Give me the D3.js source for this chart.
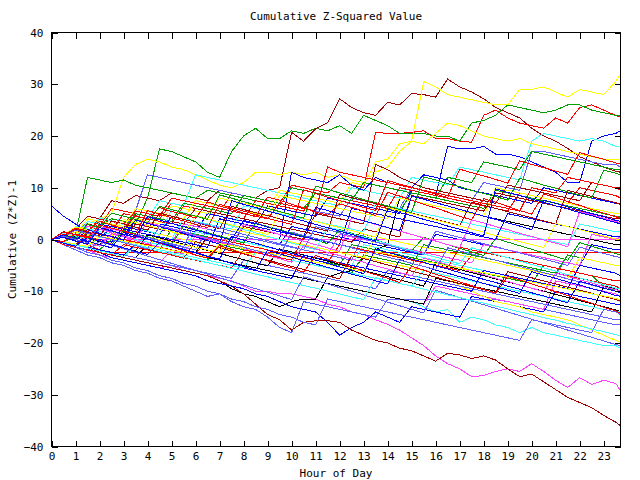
<!DOCTYPE html>
<html>
<head>
<meta charset="utf-8">
<script src="https://cdn.jsdelivr.net/npm/d3@7"></script>
<style>
  html, body { margin: 0; padding: 0; background: #fff; }
  svg { display: block; }
  text { font-family: "DejaVu Sans Mono", monospace; font-size: 11px; fill: #000; }
</style>
</head>
<body>
<svg id="chart" width="640" height="480"></svg>
<script>
// ---------------- data ----------------
const chartTitle = "Cumulative Z-Squared Value";
const xTitle = "Hour of Day";
const yTitle = "Cumulative (Z*Z)-1";
const xTicks = [0,1,2,3,4,5,6,7,8,9,10,11,12,13,14,15,16,17,18,19,20,21,22,23];
const yTicks = [-40,-30,-20,-10,0,10,20,30,40];

const hours = [0,0.5,1,1.5,2,2.5,3,3.5,4,4.5,5,5.5,6,6.5,7,7.5,8,8.5,9,9.5,10,10.5,11,11.5,
  12,12.5,13,13.5,14,14.5,15,15.5,16,16.5,17,17.5,18,18.5,19,19.5,20,20.5,21,21.5,22,22.5,23,23.5,23.75];

const redSeries = [
  [0,1.5,1,3,2.5,6,5.5,5, 4.5,4,7,6.5,6,5.5,5,9, 8.5,8,7.5,7,10.5,10,9.5,9, 11,10.5,10,20.7,20.5,20.5,20.7,21, 19.5,19.5,19,18.8,24,25,23.5,22.5, 22,21.5,23.5,22.5,25.5,26,25,24, 23.6],
  [0,0.5,0,-1,-2,-2.6,-2.6,-2.6, -2.6,-2.6,-2.6,-2.6,-2.6,-2.6,-2.6,-2.6, -2.6,-2.6,-2.6,-2.6,-2.6,-2.6,-2.6,-2.6, -2.6,-2.6,-2.6,-2.6,-2.6,-2.6,-2.6,-2.6, -2.6,-2.6,-2.6,-2.6,-2.6,-2.6,-2.6,-2.6, -2.6,-2.6,-2.6,-2.6,-2.6,-2.6,-2.6,-2.6, -2.6],
  [0,1,0.5,2.5,2,1.5,5,4.5, 4,3.5,3,6.5,6,5.5,5,4.5, 4,7.5,7,6.5,6,5.5,9,8.5, 8,7.5,7,6.5,6,10,9.5,9, 8.5,8,7.5,7,6.5,6,5.5,9, 8.5,8,7.5,7,10,9.5,9,8.5, 8],
  [0,-0.5,-1,1.5,1,0.5,0,-0.5, -1,-1.5,-2,-2.5,-3,0.5,0,-0.5, -1,-1.5,-2,-2.5,-3,-3.5,-4,-4.5, -1,-1.5,-2,-2.5,-3,-3.5,-4,-4.5, -5,-5.5,-6,-3,-3.5,-4,-4.5,-5, -5.5,-6,-6.5,-7,-7.5,-8,-8.5,-9, -9.5],
  [0,1,2,1.5,4,3.5,3,5.5, 5,4.5,8,7.5,7,6.5,6,5.5, 5,4.5,4,7,6.5,6,5.5,14, 13,12.5,12,11.5,11,10.5,10,9.5, 9,8.5,8,7.5,7,6.5,6,5.5, 10,9.5,9,12,11.5,11,10.5,10, 9.5],
  [0,-1,-1.5,-2,-2.5,-3,-1,-1.5, -2,-2.5,-3,-3.5,-4,-4.5,-5,-5.5, -2,-2.5,-3,-3.5,-4,0.5,0,-0.5, -1,-1.5,-2,-2.5,-3,-3.5,-4,-4.5, -5,-5.5,-1.5,-2,-2.5,-3,-3.5,-4, -4.5,-5,-5.5,-6,-6.5,-7,-7.5,-8, -8],
  [0,0.8,2.2,1.6,3.5,2.8,2.1,4.6, 3.9,6.2,5.4,4.9,4.1,7.3,6.5,5.8, 5.1,4.4,8.2,7.6,6.8,6.1,5.3,4.7, 6.9,6.2,5.5,4.6,9.1,8.4,7.6,6.8, 6.1,5.3,4.5,3.8,7.9,7.2,6.4,5.6, 4.9,8.8,8.1,7.3,6.6,5.8,5.1,4.4, 4.1],
  [0,-0.4,1.1,0.5,-0.2,-0.9,-1.6,0.8, 0.1,-0.7,-1.4,-2.2,-3,-3.6,-1.2,-1.9, -2.7,-3.4,-4.1,-4.9,-5.5,-6.3,-3.1,-3.8, -4.6,-5.3,-6.1,-6.8,-7.5,-8.3,-5.2,-5.9, -6.7,-7.4,-8.2,-8.9,-9.6,-10.4,-7.1,-7.8, -8.6,-9.3,-10.1,-10.8,-11.6,-12.3,-13.1,-13.8, -14.2],
  [0,1.4,0.9,0.3,2.8,2.2,1.6,1, 5.6,4.9,4.2,3.6,2.9,2.3,6.8,6.1, 5.5,4.8,4.1,3.5,2.9,9.6,8.9,8.2, 7.5,6.9,6.2,5.6,11.4,10.7,10.1,9.4, 8.8,8.1,13.6,12.9,12.3,11.6,10.9,15.2, 14.5,13.9,13.2,12.6,16.8,16.1,15.5,14.8, 14.6]
];

const greenSeries = [
  [0,0.5,1,3,2.5,4,3.5,3, 8,17.5,17,16,15,13,12,17, 20,21.5,19.5,19.5,21,20.5,21.5,21, 22,20.5,24,23,22,20.5,20.5,20.5, 20,20,19,22.5,23,24,26,25.5, 25,24.5,25,26,26,25,24.5,24, 24],
  [0,0.5,1,12,11.5,11,11.5,10.5, 10,9.5,9,8.5,8,9.5,9,8.5, 8,7.5,7,6.5,10,9.5,9,8.5, 8,7.5,7,6.5,6,5.5,9,8.5, 8,7.5,7,6.5,6,9.5,9,8.5, 8,7.5,7,6.5,6,5.5,5,4.5, 4.5],
  [0,-0.5,-1,1,0.5,0,-0.5,-1, -1.5,-2,2,1.5,1,0.5,0,-0.5, -1,-1.5,-2,-2.5,-3,-3.5,-4,-4.5, -5,-1,-1.5,-2,-2.5,-3,-3.5,-4, -4.5,-5,-5.5,-6,-6.5,-7,-7.5,-8, -8.5,-5,-5.5,-6,-6.5,-7,-9,-10, -10],
  [0,1,0.5,0,3,2.5,2,5, 4.5,4,3.5,7,6.5,6,5.5,5, 8.5,8,7.5,7,6.5,6,9,8.5, 8,7.5,11,10.5,10,9.5,9,8.5, 8,12,11.5,11,15,14.5,14,13.5, 17,16.5,16,15.5,15,14.5,14,13.5, 13.5],
  [0,-0.5,-1,-1.5,-2,0,-0.5,-1, -1.5,-2,-2.5,-3,-3.5,-4,-1,-1.5, -2,-2.5,-3,-3.5,-4,-4.5,-5,-5.5, -6,-6.5,-3,-3.5,-4,-4.5,-5,-1, -1.5,-2,-2.5,-3,-3.5,-4,-4.5,-5, -5.5,-6,-6.5,-3,-3.5,-4,-4.5,-5, -5],
  [0,-0.6,0.9,0.3,-0.3,-1,1.8,1.1, 0.5,-0.2,-0.9,2.6,2,1.3,0.7,0, -0.7,3.2,2.5,1.9,1.2,0.6,-0.1,-0.8, 1.9,1.2,0.6,-0.1,-0.8,-1.5,-2.2,0.4, -0.3,-1,-1.7,-2.4,-3.1,0.2,-0.5,-1.2, -1.9,-2.6,-3.3,-4,-0.6,-1.3,-2,-2.7, -3],
  [0,0.7,0.2,2.9,2.3,5.1,4.5,3.9, 3.2,6.4,5.8,5.1,4.5,3.9,8.6,8, 7.3,6.7,6,5.4,4.8,4.1,10.3,9.7, 9,8.4,7.7,7.1,6.5,5.8,5.2,12.1, 11.5,10.8,10.2,9.5,8.9,8.3,7.6,11.8, 11.2,10.5,9.9,9.2,8.6,8,13.4,12.8, 12.5]
];

const blueSeries = [
  [0,0.5,0,2,1.5,1,0.5,4, 3.5,3,2.5,2,1.5,5,4.5,4, 3.5,3,6.5,6,5.5,5,4.5,8, 7.5,7,6.5,6,5.5,5,9.5,9, 8.5,18,17.5,17.5,18,16.5,16.5,16, 15,14,13,11,11,19,20,20.5, 21],
  [6.5,4.5,3,1.5,0.5,2,1.5,1, 0.5,0,-0.5,3,2.5,2,1.5,1, 0.5,0,-0.5,-1,2.5,2,1.5,1, 0.5,0,-0.5,-1,-1.5,-2,-2.5,-3, 1,0.5,0,-0.5,-1,-1.5,-2,-2.5, -3,-3.5,-4,-4.5,-5,-1,-1.5,-2, -2],
  [0,-1,-1.5,-2,-2.5,-3.5,-4,-4.5, -5,-5.5,-6,-6.5,-7,-8,-8.5,-9, -9.5,-10.5,-11,-12,-13,-13.5,-14,-16, -18.5,-17,-16,-14,-15,-16,-13,-13.5, -14,-14.5,-15,-11,-11.5,-12,-12.5,-13, -13.5,-14,-10,-10.5,-11,-11.5,-12,-12.5, -12.5],
  [0,0.5,1,0.5,0,-0.5,2.5,2, 1.5,1,4.5,4,3.5,3,2.5,2, 1.5,1,0.5,0,13,12,11.5,11, 12.5,10.5,9.5,12,11,10.5,10,12.5, 12,11.5,10,9.5,9,8.5,8,7.5, 7,10,9.5,9,8.5,8,7.5,7, 7],
  [0,-0.5,-1,-1.5,-2,-2.5,-3,-1, -1.5,-2,-2.5,-3,-3.5,-4,-4.5,-5, -5.5,-6,-6.5,-7,-7.5,-3,-3.5,-4, -4.5,-5,-5.5,-6,-6.5,-7,-7.5,-8, -8.5,-9,-9.5,-10,-6,-6.5,-7,-7.5, -8,-8.5,-9,-9.5,-5,-5.5,-6,-6.5, -7],
  [0,0.5,0,-0.5,3,2.5,2,1.5, 1,0.5,0,-0.5,-1,-1.5,4,3.5, 3,2.5,2,1.5,1,0.5,0,-0.5, -1,6,5.5,5,4.5,4,3.5,3, 2.5,2,1.5,1,0.5,0,5,4.5, 4,3.5,3,2.5,2,1.5,1,0.5, 0.5],
  [0,0.5,-0.2,1.9,1.2,0.6,-0.1,3.8, 3.1,2.5,1.8,1.2,0.5,-0.2,-0.9,7.5, 6.8,6.2,5.5,4.9,4.2,3.6,2.9,2.3, 1.6,1,0.3,-0.3,5.9,5.2,4.6,3.9, 3.3,2.6,2,1.3,0.7,9.8,9.1,8.5, 7.8,7.2,6.5,5.9,5.2,4.6,3.9,3.3, 3],
  [0,-0.7,-1.3,0.4,-0.3,-1,-1.6,-2.3, -2.9,-0.6,-1.3,-2,-2.6,-3.3,-3.9,-4.6, -5.2,-5.9,-2.1,-2.8,-3.4,-4.1,-4.7,-5.4, -6,-6.7,-7.3,-8,-8.6,-3.9,-4.6,-5.2, -5.9,-6.5,-7.2,-7.8,-8.5,-9.1,-9.8,-10.4, -6.2,-6.9,-7.5,-8.2,-8.8,-9.5,-10.1,-10.8, -11],
  [0,0.9,0.3,-0.3,-1,-1.6,1.4,0.7, 0.1,-0.6,-1.2,-1.9,-2.5,-3.2,-3.8,0.6, -0.1,-0.7,-1.4,-2,-2.7,-3.3,-4,-4.6, -5.3,-5.9,-6.6,-1.8,-2.5,-3.1,-3.8,-4.4, -5.1,-5.7,-6.4,-7,-7.7,-8.3,-9,-9.6, -10.3,-10.9,-11.6,-12.2,-8.1,-8.7,-9.4,-10, -10.3],
  [0,0.4,-0.3,-0.9,2.3,1.7,1,0.4, 4.4,3.8,3.1,2.5,1.8,1.2,0.5,-0.1, 3.7,3.1,2.4,1.8,1.1,0.5,6.2,5.6, 4.9,4.3,3.6,3,2.3,1.7,8.4,7.8, 7.1,6.5,5.8,5.2,4.5,3.9,3.2,2.6, 1.9,7.6,7,6.3,5.7,5,4.4,3.7, 3.5]
];

const magentaSeries = [
  [0,-0.5,-1.5,-2,-3,-3.5,-4,-4.5, -5,-5.5,-5,-6,-6.5,-7,-7.5,-8, -9,-10,-10,-10.5,-10.5,-11,-11.5,-12.5, -13,-14,-14.5,-15.5,-16.4,-17.5,-19,-20.5, -22.5,-24,-25,-26.5,-26.3,-25.5,-25,-25.5, -24,-25.5,-27.2,-28.6,-26.7,-28,-27.2,-27.8, -29.2],
  [0,0.5,1,0.5,0,0,0,0, 0,0,0,0,0,0,0,0, 0,0,0,0,0,0,0,0, 0,0,0,0,0,0,0,0, 0,0,0,0,0,0,0,0, 0,0,0,0,0,0,0,0, 0],
  [0,-0.5,-1,-1.5,-2,-2.5,-3,-3.5, -4,-4.5,-2,-2.5,-3,-3.5,-4,-4.5, -5,-5.5,-6,-6.5,-7,-7.5,-8,-8.5, -9,-9.5,-10,-10.5,-11,-11.5,-12,-12.5, -9,-9.5,-10,-10.5,-11,-11.5,-12,-12.5, -13,-13.5,-8,-8.5,-9,-9.5,-10,-10.5, -11],
  [0,1,0.5,0,2.5,2,1.5,1, 0.5,0,-0.5,3,2.5,2,1.5,1, 0.5,0,-0.5,-1,-1.5,-2,-2.5,-3, 1,0.5,0,-0.5,-1,-1.5,-2,-2.5, -3,-3.5,-4,-4.5,-1,-1.5,-2,-2.5, -3,-3.5,-4,-4.5,-5,1,0.5,0, 0.5],
  [0,0.6,0,-0.6,-1.3,1.1,0.5,-0.2, -0.8,-1.5,-2.1,-2.8,0.8,0.2,-0.5,-1.1, -1.8,-2.4,-3.1,-3.7,-4.4,-1.2,-1.8,-2.5, -3.1,-3.8,-4.4,-5.1,-5.7,-6.4,-7,-3.6, -4.2,-4.9,-5.5,-6.2,-6.8,-7.5,-8.1,-8.8, -9.4,-10.1,-6.5,-7.1,-7.8,-8.4,-9.1,-9.7, -10],
  [0,0.8,0.2,2.6,2,1.3,0.7,0.1, 3.3,2.7,2,1.4,0.7,0.1,-0.6,-1.2, 2.9,2.3,1.6,1,0.3,-0.3,-1,-1.6, -2.3,4.2,3.6,2.9,2.3,1.6,1,0.3, -0.3,-1,-1.6,3.8,3.2,2.5,1.9,1.2, 0.6,-0.1,-0.7,-1.4,5.4,4.8,4.1,3.5, 3.2]
];

const cyanSeries = [
  [0,-0.5,-1,-1.5,-2,-2.5,-3,-3.5, -4,-4.5,-2,-2.5,-3,-3.5,-4,-4.5, -5,-5.5,-6,-6.5,-7,-7.5,-8,-8.5, -9,-9.5,-10,-10.5,-11,-11.5,-12,-13, -14,-13.5,-16,-15,-15.5,-16.5,-17,-18, -17,-18,-18.5,-19,-19.5,-20,-20.5,-20.5, -21],
  [0,1,0.5,3,2.5,2,5,4.5, 4,7.5,7,6.5,12.5,12,11.5,11, 10.5,10,9.5,9,8.5,8,7.5,7, 6.5,10,9.5,9,8.5,8,12,11.5, 11,10.5,14,13.5,13,12.5,12,11.5, 19,20.5,20,19.5,19,19.5,19,18, 18],
  [0,0.5,2.5,2,1.5,1,0.5,0, -0.5,-1,-1.5,-2,1.5,1,0.5,0, -0.5,-1,-1.5,-2,-2.5,-3,-3.5,-4, -4.5,-5,-1,-1.5,-2,-2.5,-3,-3.5, -4,-4.5,-5,-5.5,-6,-6.5,-7,-7.5, -8,-8.5,-9,-9.5,-10,-10.5,-11,-11.5, -12],
  [0,0.5,0,3.5,3,2.5,2,1.5, 1,0.5,0,4,3.5,3,2.5,2, 6.5,6,5.5,5,4.5,4,3.5,3, 2.5,2,1.5,7,6.5,6,5.5,5, 4.5,4,3.5,3,2.5,2,1.5,1, 0.5,0,-0.5,-1,3,2.5,2,1.5, 1.5],
  [0,-0.5,-1,-1.5,0.5,0,-0.5,-1, -1.5,-2,-2.5,-3,-3.5,-4,-4.5,-5, -5.5,-2.5,-3,-3.5,-4,-4.5,-5,-5.5, -6,-6.5,-7,-7.5,-8,-8.5,-9,-6, -6.5,-7,-7.5,-8,-8.5,-9,-9.5,-10, -10.5,-11,-11.5,-12,-12.5,-13,-13.5,-14, -14],
  [0,1.3,0.7,0.1,4.2,3.6,2.9,2.3, 1.6,1,5.8,5.2,4.5,3.9,3.2,2.6, 1.9,1.3,0.6,0,-0.7,-1.3,-2,2.4, 1.8,1.1,0.5,-0.2,-0.8,-1.5,-2.1,-2.8, -3.4,-4.1,-4.7,-1.6,-2.2,-2.9,-3.5,-4.2, -4.8,-5.5,-6.1,-6.8,-7.4,-8.1,-8.7,-9.4, -9.6],
  [0,-0.5,-1.1,-1.6,-2.2,-2.7,-3.3,-1.2, -1.7,-2.3,-2.8,-3.4,-3.9,-4.5,-5,-5.6, -6.1,-6.7,-7.2,-7.8,-8.3,-8.9,-9.4,-10, -10.5,-11.1,-11.6,-7.4,-7.9,-8.5,-9,-9.6, -10.1,-10.7,-11.2,-11.8,-12.3,-12.9,-13.4,-14, -14.5,-15.1,-15.6,-16.2,-16.7,-17.3,-17.8,-18.4, -18.7]
];

const darkRedSeries = [
  [0,1,2,4.5,4,7.5,7,8.5, 8,7.5,9,8.5,8,7.5,9.5,9, 8.5,8,9.5,10,20.7,19,21.4,22.6, 27.2,25.5,24.5,24,26.5,26,28.2,28, 27.5,31,29.5,28.5,27.2,25.5,24.5,23.5, 21.5,20,19,17.6,16,15,14,13.2, 13],
  [0,-0.5,-1,-1.5,-2.5,-3,-3.5,-4, -4.5,-5,-5.5,-6,-6.5,-7,-8,-9, -10.5,-12.5,-14.5,-15.5,-17.5,-16,-15.7,-15.7, -16,-17.5,-18.5,-19.5,-20,-21,-21.5,-22.5, -23.5,-22,-22.3,-23,-22.5,-23.3,-25,-26.5, -26,-27.5,-29,-30.5,-31.5,-32.5,-34,-35.3, -36],
  [0,1.5,1,3,2.5,2,1.5,5, 4.5,4,3.5,3,6,5.5,5,4.5, 4,3.5,3,2.5,2,1.5,1,0.5, 0,-0.5,2,1.5,1,0.5,8.5,8, 7.5,7,6.5,6,5.5,9,8.5,8, 7.5,7,6.5,6,5.5,5,4.5,4, 4],
  [0,0.5,2,1.5,1,0.5,0,3, 2.5,2,1.5,1,0.5,0,-0.5,-1, 2.5,2,1.5,1,0.5,0,5,4.5, 4,3.5,3,14.5,13.5,12,11,10, 9.5,9,8.5,8,7.5,7,10.5,10, 9.5,9,8.5,8,7.5,11,10.5,10, 10],
  [0,-0.5,-1.1,1.2,0.6,0,-0.6,-1.2, -1.8,-2.4,-3,-3.6,-0.4,-1,-1.6,-2.2, -2.8,-3.4,-4,-4.6,-5.2,-5.8,-6.4,-7, -7.6,-3.1,-3.7,-4.3,-4.9,-5.5,-6.1,-6.7, -7.3,-7.9,-8.5,-9.1,-9.7,-10.3,-6.2,-6.8, -7.4,-8,-8.6,-9.2,-9.8,-10.4,-11,-11.6, -11.9],
  [0,0.6,1.9,1.3,0.7,3.6,3,2.4, 1.8,5.1,4.5,3.9,3.3,2.7,2.1,6.4, 5.8,5.2,4.6,4,3.4,2.8,2.2,1.6, 8.7,8.1,7.5,6.9,6.3,5.7,5.1,4.5, 3.9,3.3,2.7,7.2,6.6,6,5.4,4.8, 4.2,3.6,3,9.5,8.9,8.3,7.7,7.1, 6.8]
];

const yellowSeries = [
  [0,0.5,1.5,3,4,5,12,14.5, 15.5,15,14,13.5,12.5,11.5,10.5,10, 11,13,13,12.5,13,12.5,13,12, 12.5,11.5,11,13,14,17,19,30.5, 29.5,28,27.5,27,26.5,26,26,29, 29,29.5,28.5,27.5,29,28.5,28,30.5, 32],
  [0,0.5,1,0.5,2.5,2,1.5,4, 3.5,3,6.5,6,5.5,5,8,7.5, 7,6.5,6,9.5,9,8.5,8,7.5, 7,11,10.5,15,15.5,18.5,19,18.5, 20.5,22.5,22,21,20,19.5,19,19.5, 18.5,18,17.5,17,16.5,16,15.5,15.5, 15.5],
  [0,-0.5,1.5,1,0.5,0,-0.5,-1, -1.5,1,0.5,0,-0.5,-1,-1.5,-2, -2.5,-3,0.5,0,-0.5,-1,-1.5,-2, -2.5,-3,-3.5,-4,-4.5,-5,-5.5,-6, -6.5,-7,-9,-10,-11,-12,-12.5,-13, -14,-14.5,-15,-15.5,-16.5,-17.5,-18.5,-19.5, -20],
  [0,0.5,1,4,3.5,3,2.5,6, 5.5,5,4.5,4,7.5,7,6.5,6, 5.5,5,4.5,8.5,8,7.5,7,6.5, 6,5.5,5,4.5,4,8,7.5,7, 6.5,6,5.5,5,4.5,10,9.5,9, 8.5,8,7.5,7,6.5,6,5.5,5, 5],
  [0,0.5,0,-0.5,-1,-1.5,1.5,1, 0.5,0,-0.5,-1,-1.5,-2,-2.5,2, 1.5,1,0.5,0,-0.5,-1,-1.5,-2, -2.5,-3,-3.5,0.5,0,-0.5,-1,-1.5, -2,-2.5,-3,-3.5,-4,-4.5,-5,-5.5, -6,-6.5,-7,-7.5,-3.5,-4,-4.5,-5, -5],
  [0,0.9,2.4,1.8,1.2,0.6,3.9,3.3, 2.7,2.1,1.5,0.9,4.6,4,3.4,2.8, 2.2,1.6,1,5.3,4.7,4.1,3.5,2.9, 2.3,1.7,1.1,0.5,6.2,5.6,5,4.4, 3.8,3.2,2.6,2,1.4,0.8,0.2,-0.4, -1,-1.6,3.1,2.5,1.9,1.3,0.7,0.1, -0.2],
  [0,-0.4,-0.9,-1.3,0.6,0.2,-0.3,-0.7, -1.2,-1.6,-2.1,-2.5,-3,-3.4,-0.8,-1.2, -1.7,-2.1,-2.6,-3,-3.5,-3.9,-4.4,-4.8, -5.3,-5.7,-6.2,-2.4,-2.8,-3.3,-3.7,-4.2, -4.6,-5.1,-5.5,-6,-6.4,-6.9,-7.3,-7.8, -8.2,-8.7,-9.1,-9.6,-10,-10.5,-10.9,-11.4, -11.6]
];

const blackSeries = [
  [0,-1,-1.5,-2,-2.5,-3,-3.5,-4, -4.5,-5,-5.5,-6,-6.5,-7,-8,-9.5, -10.5,-11,-12,-13,-12,-11.5,-11.5,-7.3, -6.5,-6,-3.5,-4,-4.5,-5,-5.5,-6, -6.5,-7,-7.5,-8,-8.5,-9,-9.5,-10, -10.5,-11,-11.5,-12,-12.5,-13,-13.5,-14, -14],
  [0,0.5,0,-0.5,-1,1,0.5,0, -0.5,-1,-1.5,-2,-2.5,0.5,0,-0.5, -1,-1.5,-2,-2.5,-3,-3.5,-4,-4.5, -5,-1,-1.5,-2,-1,8,7.5,7, 6.5,6,5.5,5,4.5,4,3.5,3, 2.5,2,1.5,1,0.5,0,-0.5,-1, -1],
  [0,-0.5,-1,-1.5,-2,-2.5,-3,-3.5, -1,-1.5,-2,-2.5,-3,-3.5,-4,-4.5, -5,-5.5,-6,-6.5,-7,-7.5,-8,-8.5, -9,-9.5,-10,-10.5,-11,-11.5,-12,-12.5, -7.5,-8,-8.5,-9,-9.5,-10,-10.5,-11, -11.5,-12,-12.5,-13,-13.5,-14,-9,-9.5, -10],
  [0,-0.6,0.8,0.2,-0.4,-1,-1.6,-2.2, 0.9,0.3,-0.3,-0.9,-1.5,-2.1,-2.7,-3.3, -3.9,-4.5,-5.1,-1.8,-2.4,-3,-3.6,-4.2, -4.8,-5.4,-6,-6.6,-7.2,-7.8,-8.4,-9, -4.6,-5.2,-5.8,-6.4,-7,-7.6,-8.2,-8.8, -9.4,-10,-10.6,-11.2,-11.8,-12.4,-13,-13.6, -13.9]
];

const lightBlueSeries = [
  [0,-1,-2,-3,-3.5,-4.5,-5,-6, -6.5,-7.5,-8,-9,-10,-11,-10.5,-12, -13,-13.5,-15,-17,-18,-12,-12.5,-13, -13.5,-14,-14.5,-15,-11.6,-11.6,-11.6,-11.6, -11.6,-11.6,-11.6,-11.6,-11.6,-11.6,-12,-12.5, -13,-13.5,-14,-14.5,-15,-15.5,-16,-16.5, -16.5],
  [0,0.5,1,3.5,3,2.5,2,5.5, 12.5,12,11.5,11,10.5,10,9.5,9, 8.5,8,7.5,7,6.5,6,5.5,5, 4.5,8,7.5,7,6.5,6,10,9.5, 9,8.5,8,7.5,11,10.5,10,9.5, 17,17,16.5,16,15.5,15,14.5,14.5, 14],
  [0,-0.5,-1,-1.5,-2,-2.5,-3,-3.5, -4,-4.5,-5,-5.5,-6,-6.5,-7,-7.5, -4,-4.5,-5,-5.5,-6,-6.5,-7,-7.5, -8,-8.5,-9,-9.5,-6,-6.5,-7,-7.5, -8,-8.5,-9,-9.5,-10,-10.5,-11,-11.5, -12,-12.5,-13,-13.5,-14,-14.5,-15,-15.5, -15.5],
  [0,0.5,0,-0.5,2,1.5,1,0.5, 0,-0.5,-1,-1.5,-2,2,1.5,1, 0.5,0,-0.5,-1,-1.5,-2,-2.5,-3, -3.5,-4,1,0.5,0,-0.5,-1,-1.5, -2,-2.5,-3,-3.5,-4,-4.5,-5,-5.5, -6,-6.5,-7,-3,-3.5,-4,-4.5,-5, -5],
  [0,-1,-1.5,-2.5,-3,-4,-4.5,-5.5, -6,-7,-7.5,-8.5,-9,-10,-10.5,-11.5, -12,-13,-13.5,-14.5,-15,-16,-16.5,-11.5, -12,-12.5,-13,-13.5,-14,-14.5,-15,-15.5, -16,-16.5,-17,-17.5,-18,-18.5,-19,-19.5, -15.5,-16,-16.5,-17,-17.5,-18,-13.5,-14, -14.5],
  [0,-0.7,-1.4,-2.1,-0.4,-1.1,-1.8,-2.5, -3.2,-3.9,-4.6,-5.3,-6,-6.7,-7.4,-8.1, -8.8,-9.5,-10.2,-10.9,-11.6,-7.2,-7.9,-8.6, -9.3,-10,-10.7,-11.4,-12.1,-12.8,-13.5,-14.2, -9.8,-10.5,-11.2,-11.9,-12.6,-13.3,-14,-14.7, -15.4,-16.1,-16.8,-17.5,-18.2,-18.9,-19.6,-20.3, -20.5],
  [0,0.6,0,-0.6,2.8,2.2,1.6,1, 0.4,-0.2,-0.8,-1.4,3.4,2.8,2.2,1.6, 1,0.4,-0.2,-0.8,-1.4,-2,2.5,1.9, 1.3,0.7,0.1,-0.5,-1.1,-1.7,-2.3,-2.9, 1.6,1,0.4,-0.2,-0.8,-1.4,-2,-2.6, -3.2,-3.8,-4.4,-5,-1.5,-2.1,-2.7,-3.3, -3.5],
  [0,0.5,1.8,1.2,0.6,0,-0.6,-1.2, -1.8,2.7,2.1,1.5,0.9,0.3,-0.3,-0.9, -1.5,-2.1,-2.7,-3.3,1.4,0.8,0.2,-0.4, -1,-1.6,-2.2,-2.8,-3.4,-4,-4.6,-5.2, -5.8,-1.6,-2.2,-2.8,-3.4,-4,-4.6,-5.2, -5.8,-6.4,-7,-7.6,-8.2,-8.8,-9.4,-10, -10.3]
];

// ---------------- styles ----------------
const groups = [
  { data: redSeries,       color: "#ff0000" },
  { data: greenSeries,     color: "#00a000" },
  { data: blueSeries,      color: "#0000ff" },
  { data: magentaSeries,   color: "#ff40ff" },
  { data: cyanSeries,      color: "#40ffff" },
  { data: darkRedSeries,   color: "#a00000" },
  { data: yellowSeries,    color: "#ffff00" },
  { data: blackSeries,     color: "#000000" },
  { data: lightBlueSeries, color: "#6060ff" }
];

const W = 640, H = 480;
const L = 51.5, R = 620.5, T = 32.5, B = 446.5;

const svg = d3.select("#chart");
svg.append("rect").attr("width", W).attr("height", H).attr("fill", "#fff");

const x = d3.scaleLinear().domain([0, 23.7]).range([L, R]);
const y = d3.scaleLinear().domain([-40, 40]).range([B, T]);

const line = d3.line()
  .defined((d, i) => i < hours.length)
  .x((d, i) => x(Math.min(hours[i], 23.7)))
  .y(d => y(d));

// interleave series like a plotting program cycling its colours
const plotG = svg.append("g");
const maxLen = d3.max(groups, g => g.data.length);
for (let k = 0; k < maxLen; k++) {
  groups.forEach(g => {
    if (g.data[k]) {
      plotG.append("path")
        .attr("d", line(g.data[k]))
        .attr("fill", "none")
        .attr("stroke", g.color)
        .attr("stroke-width", 1)
        .attr("shape-rendering", "crispEdges");
    }
  });
}

// axes (inward ticks, mirrored)
const axB = svg.append("g").attr("transform", `translate(0,${B})`)
  .call(d3.axisBottom(x).tickValues(xTicks).tickSize(-6).tickPadding(6).tickFormat(d3.format("d")));
const axT = svg.append("g").attr("transform", `translate(0,${T})`)
  .call(d3.axisTop(x).tickValues(xTicks).tickSize(-6).tickFormat(""));
const axL = svg.append("g").attr("transform", `translate(${L},0)`)
  .call(d3.axisLeft(y).tickValues(yTicks).tickSize(-6).tickPadding(8).tickFormat(d3.format("d")));
const axR = svg.append("g").attr("transform", `translate(${R},0)`)
  .call(d3.axisRight(y).tickValues(yTicks).tickSize(-6).tickFormat(""));

[axB, axT, axL, axR].forEach(a => {
  a.select(".domain").remove();
  a.selectAll("line").attr("stroke", "#000").attr("shape-rendering", "crispEdges");
  a.selectAll("text")
    .attr("font-family", "DejaVu Sans Mono, monospace")
    .attr("font-size", 11)
    .attr("fill", "#000");
});

// frame
svg.append("rect")
  .attr("x", L).attr("y", T)
  .attr("width", R - L).attr("height", B - T)
  .attr("fill", "none").attr("stroke", "#000").attr("stroke-width", 1)
  .attr("shape-rendering", "crispEdges");

// titles
svg.append("text").attr("x", (L + R) / 2).attr("y", 19.5)
  .attr("text-anchor", "middle").text(chartTitle);
svg.append("text").attr("x", (L + R) / 2).attr("y", 477)
  .attr("text-anchor", "middle").text(xTitle);
svg.append("text").attr("transform", `translate(16,${(T + B) / 2}) rotate(-90)`)
  .attr("text-anchor", "middle").text(yTitle);
</script>
</body>
</html>
